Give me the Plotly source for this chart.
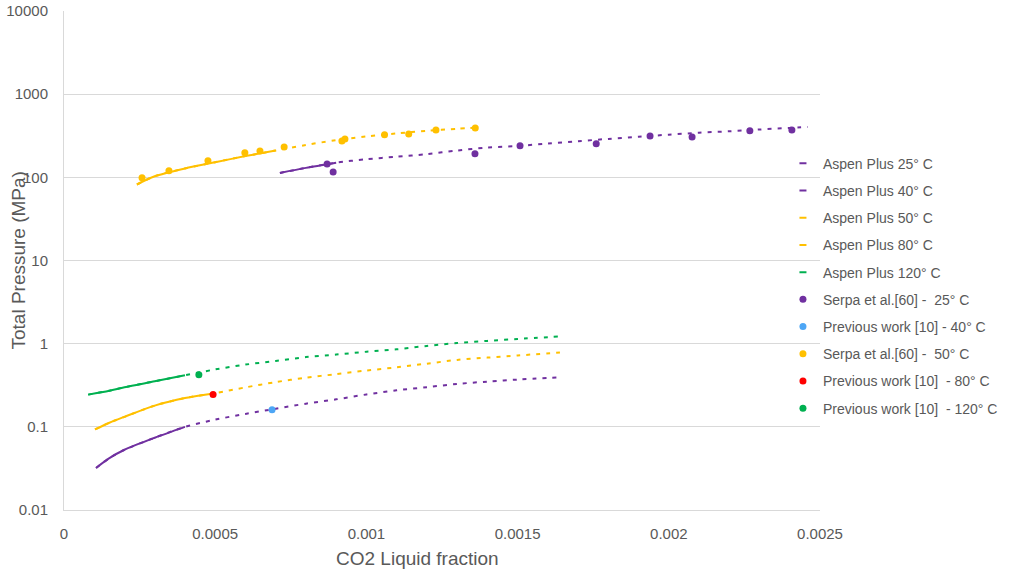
import plotly.graph_objects as go

# ---- Aspen Plus model curves: CO2 liquid mole fraction vs total pressure (MPa)
aspen_25_x = [0.000714, 0.0008, 0.0009, 0.001, 0.0011, 0.0012, 0.0013, 0.0014, 0.0015,
              0.0016, 0.0017, 0.0018, 0.0019, 0.002, 0.0021, 0.0022, 0.0023, 0.0024, 0.00246]
aspen_25_p = [113, 130, 150, 165, 177, 190, 210, 228, 238,
              255, 272, 290, 308, 326, 344, 358, 376, 393, 404]

aspen_40_x = [0.000106, 0.00015, 0.0002, 0.0003, 0.0004, 0.0005, 0.0006, 0.0007, 0.0008,
              0.0009, 0.001, 0.0011, 0.0012, 0.0013, 0.0014, 0.0015, 0.00164]
aspen_40_p = [0.032, 0.042, 0.053, 0.074, 0.100, 0.122, 0.143, 0.165, 0.190,
              0.214, 0.245, 0.275, 0.300, 0.328, 0.350, 0.370, 0.393]

aspen_50_x = [0.000241, 0.0003, 0.0004, 0.0005, 0.0006, 0.0007, 0.0008, 0.0009, 0.001,
              0.0011, 0.0012, 0.0013, 0.00136]
aspen_50_p = [82, 103, 128, 152, 180, 210, 245, 280, 310,
              337, 362, 383, 395]

aspen_80_x = [0.0001025, 0.00015, 0.0002, 0.0003, 0.0004, 0.0005, 0.0006, 0.0007, 0.0008,
              0.0009, 0.001, 0.0011, 0.0012, 0.0013, 0.0014, 0.0015, 0.00164]
aspen_80_p = [0.093, 0.112, 0.132, 0.180, 0.222, 0.254, 0.298, 0.345, 0.390,
              0.430, 0.475, 0.520, 0.575, 0.638, 0.680, 0.720, 0.785]

aspen_120_x = [0.00008, 0.00015, 0.0002, 0.0003, 0.0004, 0.0005, 0.0006, 0.0007, 0.0008,
               0.0009, 0.001, 0.0011, 0.0012, 0.0013, 0.0014, 0.0015, 0.00164]
aspen_120_p = [0.244, 0.272, 0.299, 0.353, 0.417, 0.490, 0.560, 0.620, 0.690,
               0.740, 0.800, 0.855, 0.940, 1.020, 1.080, 1.140, 1.220]

# ---- Experimental / reference points
serpa_25_x = [0.00087, 0.00089, 0.001359, 0.001508, 0.00176, 0.001938, 0.002077, 0.002268, 0.002407]
serpa_25_p = [145, 116, 192, 239, 253, 315, 306, 362, 372]

serpa_50_x = [0.000258, 0.000347, 0.000476, 0.000598, 0.000648, 0.000728,
              0.000919, 0.000929, 0.00106, 0.00114, 0.00123, 0.00136]
serpa_50_p = [99, 120, 158, 197, 208, 232, 274, 290, 324, 333, 372, 393]

prev_40_x = [0.000688]
prev_40_p = [0.161]
prev_80_x = [0.000493]
prev_80_p = [0.244]
prev_120_x = [0.000446]
prev_120_p = [0.424]

x_ticks = [0, 0.0005, 0.001, 0.0015, 0.002, 0.0025]
x_tick_text = ["0", "0.0005", "0.001", "0.0015", "0.002", "0.0025"]
y_ticks = [0.01, 0.1, 1, 10, 100, 1000, 10000]
y_tick_text = ["0.01", "0.1", "1", "10", "100", "1000", "10000"]

PURPLE = "#7030A0"
YELLOW = "#FFC000"
GREEN = "#00B050"
BLUE = "#4DA6F5"
RED = "#FF0000"
TEXT = "#595959"
GRID = "#D9D9D9"
FONT = "Liberation Sans, Arial, sans-serif"

fig = go.Figure()

# model curves: densely sampled start drawn as a continuous stroke, the rest dotted
curves = [
    ("Aspen Plus 25° C", aspen_25_x, aspen_25_p, PURPLE, 3),
    ("Aspen Plus 40° C", aspen_40_x, aspen_40_p, PURPLE, 5),
    ("Aspen Plus 50° C", aspen_50_x, aspen_50_p, YELLOW, 6),
    ("Aspen Plus 80° C", aspen_80_x, aspen_80_p, YELLOW, 6),
    ("Aspen Plus 120° C", aspen_120_x, aspen_120_p, GREEN, 5),
]
for name, xs, ps, color, n_solid in curves:
    fig.add_trace(go.Scatter(
        x=xs, y=ps, mode="lines", name=name, legendgroup=name, showlegend=False,
        line=dict(color=color, width=2, dash="4px,6px", shape="spline", smoothing=0.8),
        hoverinfo="x+y+name"))
    fig.add_trace(go.Scatter(
        x=xs[:n_solid], y=ps[:n_solid], mode="lines", name=name, legendgroup=name,
        showlegend=False, line=dict(color=color, width=2, shape="spline", smoothing=0.8),
        hoverinfo="skip"))
    # short dash as the legend key
    fig.add_trace(go.Scatter(
        x=[None], y=[None], mode="markers", name=name, legendgroup=name,
        marker=dict(symbol="line-ew", size=5, line=dict(color=color, width=2))))

points = [
    ("Serpa et al.[60] -  25° C", serpa_25_x, serpa_25_p, PURPLE),
    ("Previous work [10] - 40° C", prev_40_x, prev_40_p, BLUE),
    ("Serpa et al.[60] -  50° C", serpa_50_x, serpa_50_p, YELLOW),
    ("Previous work [10]  - 80° C", prev_80_x, prev_80_p, RED),
    ("Previous work [10]  - 120° C", prev_120_x, prev_120_p, GREEN),
]
for name, xs, ps, color in points:
    fig.add_trace(go.Scatter(
        x=xs, y=ps, mode="markers", name=name, legendgroup=name,
        marker=dict(color=color, size=7, line=dict(width=0))))

fig.update_layout(
    width=1026, height=572,
    margin=dict(l=64, r=206, t=11, b=62, autoexpand=False),
    paper_bgcolor="white", plot_bgcolor="white",
    font=dict(family=FONT, color=TEXT, size=15),
    showlegend=True,
    legend=dict(
        x=0.951, y=0.726, xanchor="left", yanchor="top",
        font=dict(size=14, color=TEXT, family=FONT),
        tracegroupgap=6, bgcolor="rgba(0,0,0,0)",
    ),
    xaxis=dict(
        range=[0, 0.0025], tickvals=x_ticks, ticktext=x_tick_text, automargin=False,
        showgrid=False, zeroline=False, showline=True, linecolor=GRID, linewidth=1,
        ticks="", ticklabelstandoff=10, tickfont=dict(size=15, color=TEXT),
    ),
    yaxis=dict(
        type="log", range=[-2, 4], tickvals=y_ticks, ticktext=y_tick_text, automargin=False,
        showgrid=True, gridcolor=GRID, gridwidth=1, zeroline=False,
        showline=True, linecolor=GRID, linewidth=1,
        ticks="", ticklabelstandoff=12, tickfont=dict(size=15, color=TEXT),
    ),
    annotations=[
        dict(text="Total Pressure (MPa)", textangle=-90, xref="paper", yref="paper",
             x=-0.0608, y=0.50, xanchor="center", yanchor="middle", showarrow=False,
             font=dict(size=19, color=TEXT, family=FONT)),
        dict(text="CO2 Liquid fraction", xref="paper", yref="paper",
             x=0.468, y=-0.0962, xanchor="center", yanchor="middle", showarrow=False,
             font=dict(size=19, color=TEXT, family=FONT)),
    ],
)

fig.write_html("out.html")
